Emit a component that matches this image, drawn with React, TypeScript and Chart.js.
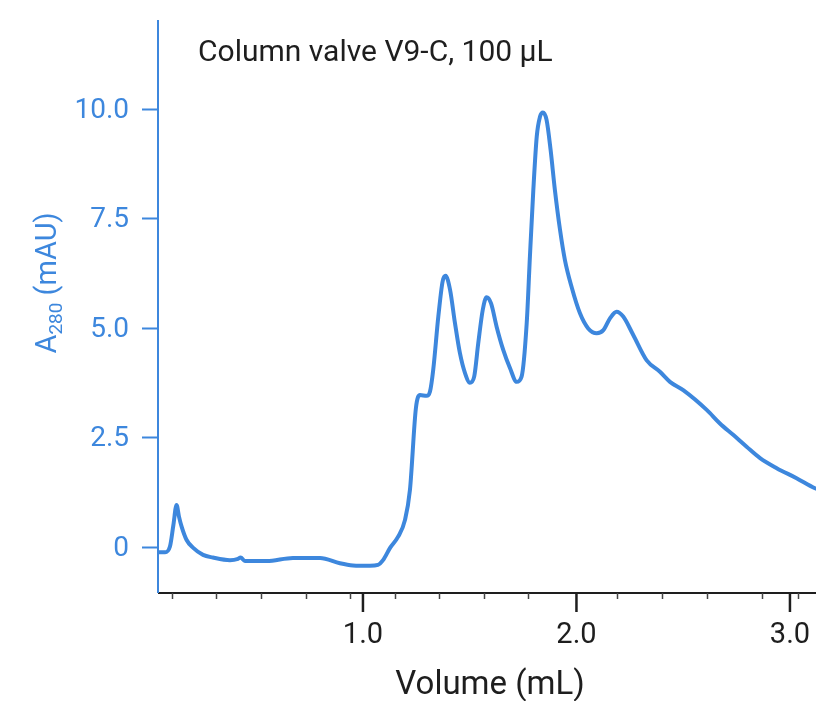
import React, { useEffect, useRef } from "react";
import { Chart, registerables } from "chart.js";

Chart.register(...registerables);

const volume: number[] = [
  0.04, 0.073, 0.096, 0.112, 0.127, 0.138, 0.151, 0.174, 0.205, 0.251, 0.297, 0.377, 0.415, 0.427, 0.447,
  0.549, 0.672, 0.799, 0.892, 0.953, 1.033, 1.07, 1.094, 1.127, 1.164, 1.197, 1.22, 1.248, 1.267, 1.298,
  1.314, 1.329, 1.353, 1.373, 1.387, 1.408, 1.431, 1.454, 1.478, 1.501, 1.521, 1.54, 1.561, 1.579, 1.6,
  1.626, 1.657, 1.689, 1.72, 1.743, 1.767, 1.782, 1.798, 1.814, 1.829, 1.843, 1.86, 1.879, 1.899, 1.923,
  1.946, 1.977, 2.016, 2.055, 2.095, 2.126, 2.157, 2.188, 2.219, 2.266, 2.329, 2.391, 2.438, 2.5, 2.61,
  2.672, 2.734, 2.797, 2.86, 2.938, 3.031, 3.117, 3.14,
];
const absorbance: number[] = [
  -0.12, -0.12, 0.01, 0.5, 0.96, 0.7, 0.46, 0.16, -0.02, -0.18, -0.24, -0.3, -0.27, -0.24, -0.32,
  -0.32, -0.25, -0.25, -0.37, -0.42, -0.43, -0.41, -0.3, -0.02, 0.23, 0.62, 1.3, 3.17, 3.47, 3.45,
  3.55, 4.04, 5.26, 6.06, 6.19, 5.87, 5.11, 4.43, 3.97, 3.75, 3.89, 4.65, 5.41, 5.7, 5.56,
  5.03, 4.5, 4.08, 3.77, 3.89, 5.11, 6.63, 8.15, 9.37, 9.82, 9.92, 9.75, 9.06, 8.15, 7.24,
  6.55, 5.94, 5.34, 4.99, 4.88, 4.95, 5.22, 5.37, 5.26, 4.84, 4.26, 4.0, 3.77, 3.58, 3.13,
  2.82, 2.56, 2.29, 2.03, 1.8, 1.57, 1.34, 1.3,
];

const xMajorTicks: number[] = [1.0, 2.0, 3.0];
const xMajorLabels: string[] = ["1.0", "2.0", "3.0"];
const xMinorTicks: number[] = [0.104, 0.313, 0.522, 0.731, 0.94, 1.148, 1.357, 1.566, 1.775, 2.192, 2.401, 2.61, 2.87, 3.04];
const yTicks: number[] = [0, 2.5, 5.0, 7.5, 10.0];
const yTickLabels: string[] = ["0", "2.5", "5.0", "7.5", "10.0"];

const xTitle = "Volume (mL)";
const yTitleMain = "A";
const yTitleSub = "280";
const yTitleRest = " (mAU)";
const annotation = "Column valve V9-C, 100 µL";

const BLUE = "#3d87dd";
const DARK = "#1e1e1e";
const FONT = "Roboto, 'Liberation Sans', sans-serif";

const axesPlugin = {
  id: "customAxes",
  afterDraw(chart: any) {
    const ctx: CanvasRenderingContext2D = chart.ctx;
    const xs = chart.scales.x;
    const ys = chart.scales.y;
    const { left, right, top, bottom } = chart.chartArea;
    ctx.save();

    // x axis line
    ctx.strokeStyle = DARK;
    ctx.lineWidth = 2;
    ctx.beginPath();
    ctx.moveTo(left, bottom);
    ctx.lineTo(right, bottom);
    ctx.stroke();

    // minor x ticks
    ctx.strokeStyle = "#444";
    ctx.lineWidth = 1.5;
    for (const v of xMinorTicks) {
      const px = Math.round(xs.getPixelForValue(v)) + 0.5;
      ctx.beginPath();
      ctx.moveTo(px, bottom);
      ctx.lineTo(px, bottom + 6);
      ctx.stroke();
    }
    // major x ticks + labels
    ctx.strokeStyle = DARK;
    ctx.lineWidth = 2.5;
    ctx.fillStyle = DARK;
    ctx.font = `29px ${FONT}`;
    ctx.textAlign = "center";
    ctx.textBaseline = "middle";
    xMajorTicks.forEach((v, i) => {
      const px = xs.getPixelForValue(v);
      ctx.beginPath();
      ctx.moveTo(px, bottom);
      ctx.lineTo(px, bottom + 19);
      ctx.stroke();
      ctx.fillText(xMajorLabels[i], px, bottom + 43);
    });
    // x title
    ctx.font = `33px ${FONT}`;
    ctx.fillText(xTitle, 490, bottom + 93);

    // y axis line
    ctx.strokeStyle = BLUE;
    ctx.lineWidth = 2;
    ctx.beginPath();
    ctx.moveTo(left, top);
    ctx.lineTo(left, bottom);
    ctx.stroke();
    // y ticks + labels
    ctx.fillStyle = BLUE;
    ctx.font = `28px ${FONT}`;
    ctx.textAlign = "right";
    ctx.textBaseline = "middle";
    yTicks.forEach((v, i) => {
      const py = Math.round(ys.getPixelForValue(v)) + 0.5;
      ctx.beginPath();
      ctx.moveTo(left - 16, py);
      ctx.lineTo(left, py);
      ctx.stroke();
      ctx.fillText(yTickLabels[i], 129, py + 1);
    });

    // y title with subscript
    ctx.save();
    ctx.translate(46, 283);
    ctx.rotate(-Math.PI / 2);
    const mainFont = `29px ${FONT}`;
    const subFont = `19px ${FONT}`;
    ctx.font = mainFont;
    const wA = ctx.measureText(yTitleMain).width;
    const wR = ctx.measureText(yTitleRest).width;
    ctx.font = subFont;
    const wS = ctx.measureText(yTitleSub).width;
    const total = wA + wS + wR;
    let cx = -total / 2;
    ctx.textAlign = "left";
    ctx.textBaseline = "alphabetic";
    ctx.font = mainFont;
    ctx.fillText(yTitleMain, cx, 10);
    cx += wA;
    ctx.font = subFont;
    ctx.fillText(yTitleSub, cx, 16);
    cx += wS;
    ctx.font = mainFont;
    ctx.fillText(yTitleRest, cx, 10);
    ctx.restore();

    // annotation
    ctx.fillStyle = DARK;
    ctx.font = `30px ${FONT}`;
    ctx.textAlign = "left";
    ctx.textBaseline = "middle";
    ctx.fillText(annotation, 198, 53);

    ctx.restore();
  },
};

export default function App() {
  const ref = useRef<HTMLCanvasElement | null>(null);
  useEffect(() => {
    if (!ref.current) return;
    const chart = new Chart(ref.current, {
      type: "line",
      data: {
        datasets: [
          {
            data: volume.map((v, i) => ({ x: v, y: absorbance[i] })),
            borderColor: BLUE,
            borderWidth: 4,
            pointRadius: 0,
            cubicInterpolationMode: "monotone",
            fill: false,
          },
        ],
      },
      options: {
        animation: false,
        responsive: false,
        devicePixelRatio: 1,
        layout: { padding: { left: 158, top: 20, right: 0, bottom: 108 } },
        plugins: { legend: { display: false }, tooltip: { enabled: false }, title: { display: false } },
        scales: {
          x: { type: "linear", min: 0.04, max: 3.122, display: false },
          y: { type: "linear", min: -1.05, max: 12.03, display: false },
        },
      },
      plugins: [axesPlugin],
    });
    return () => chart.destroy();
  }, []);
  return (
    <div style={{ position: "fixed", left: 0, top: 0, width: 816, height: 701, background: "#fff" }}>
      <canvas ref={ref} width={816} height={701} style={{ width: 816, height: 701, display: "block" }} />
    </div>
  );
}
